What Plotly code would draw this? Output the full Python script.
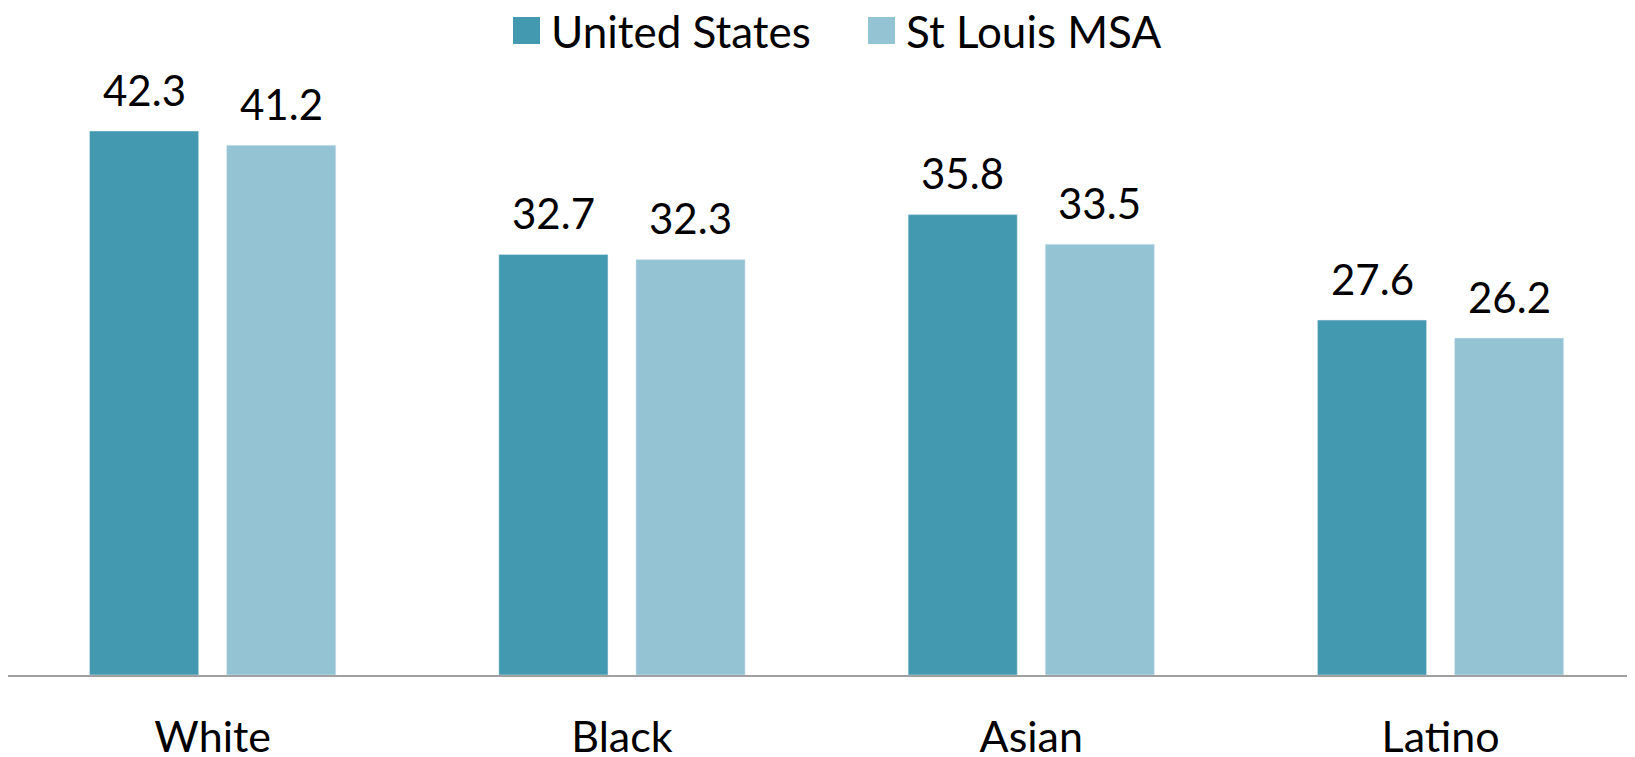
import plotly.graph_objects as go

categories = ["White", "Black", "Asian", "Latino"]
us_values = [42.3, 32.7, 35.8, 27.6]
stl_values = [41.2, 32.3, 33.5, 26.2]
series_names = ["United States", "St Louis MSA"]

DARK = "#4399AF"
LIGHT = "#94C3D4"
FONT = "Lato"

# the page body adds an 8px margin, so the figure is 8px smaller than the window
W, H = 1627, 749
M_L, M_R, M_T, M_B = 0, 0, 57, 82
X_RANGE = [-0.5, 3.475]
BARGAP = 0.33

plot_w = W - M_L - M_R
plot_h = H - M_T - M_B
cat_px = plot_w / (X_RANGE[1] - X_RANGE[0])
slot_px = cat_px * (1 - BARGAP) / 2

fig = go.Figure()
fig.add_trace(go.Bar(x=categories, y=us_values, name=series_names[0], marker_color=DARK, showlegend=False))
fig.add_trace(go.Bar(x=categories, y=stl_values, name=series_names[1], marker_color=LIGHT, showlegend=False))

# value labels above each bar
for vals, shift in [(us_values, -slot_px / 2), (stl_values, slot_px / 2)]:
    for c, v in zip(categories, vals):
        fig.add_annotation(x=c, y=v, text=f"{v}", showarrow=False, xshift=shift,
                           yanchor="middle", yshift=41.5,
                           font=dict(family=FONT, size=42, color="black"))


# legend drawn by hand so the swatches can be large
def px_x(px):
    return (px - M_L) / plot_w


def px_y(py):
    return (H - M_B - py) / plot_h


for name, color, sx in [(series_names[0], DARK, 505), (series_names[1], LIGHT, 860)]:
    fig.add_shape(type="rect", xref="paper", yref="paper",
                  x0=px_x(sx), x1=px_x(sx + 27), y0=px_y(36), y1=px_y(9),
                  fillcolor=color, line_width=0)
    fig.add_annotation(xref="paper", yref="paper", x=px_x(sx + 36), y=px_y(22.5),
                       text=name, showarrow=False, xanchor="left", yanchor="middle",
                       font=dict(family=FONT, size=44, color="black"))

fig.update_layout(
    width=W, height=H,
    margin=dict(l=M_L, r=M_R, t=M_T, b=M_B),
    barmode="group", bargap=BARGAP, bargroupgap=0.204,
    plot_bgcolor="white", paper_bgcolor="white",
    font=dict(family=FONT, size=42, color="black"),
)
fig.update_xaxes(range=X_RANGE, showline=True, linecolor="#A0A0A0", linewidth=1.5,
                 ticks="", showgrid=False, ticklabelstandoff=24, automargin=False,
                 tickfont=dict(family=FONT, size=43, color="black"))
fig.update_yaxes(range=[0, plot_h / 12.86], showgrid=False, showticklabels=False,
                 zeroline=False, showline=False, automargin=False)

fig.write_html("out.html")
